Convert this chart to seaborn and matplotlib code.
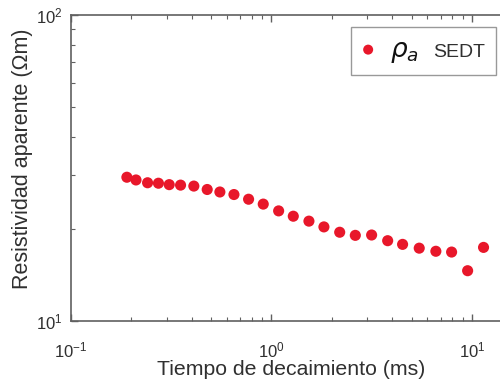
import matplotlib
matplotlib.use("Agg")
import matplotlib.pyplot as plt
import seaborn as sns
import pandas as pd
from matplotlib.lines import Line2D
from matplotlib.ticker import LogLocator, NullFormatter

# Decay time (ms) and apparent resistivity (Ohm m)
tiempo_ms = [0.190, 0.211, 0.241, 0.273, 0.309, 0.352, 0.410, 0.478, 0.553, 0.650,
             0.769, 0.910, 1.086, 1.285, 1.538, 1.827, 2.19, 2.62, 3.16, 3.80,
             4.51, 5.46, 6.61, 7.92, 9.52, 11.43]
resistividad = [29.5, 28.9, 28.3, 28.2, 27.9, 27.8, 27.6, 26.9, 26.4, 25.9,
                25.0, 24.1, 22.9, 22.0, 21.2, 20.3, 19.5, 19.05, 19.1, 18.3,
                17.8, 17.3, 16.9, 16.8, 14.6, 17.4]
simbolo = r"$\rho_a$"
metodo = "SEDT"

df = pd.DataFrame({"t": tiempo_ms, "rho": resistividad})

sns.set_style("ticks")
plt.rcParams["font.family"] = ["Liberation Sans", "DejaVu Sans"]
plt.rcParams["mathtext.default"] = "it"

fig = plt.figure(figsize=(5.0, 3.79), dpi=100)
ax = fig.add_axes([71 / 500, 1 - 321 / 379, 441 / 500, 306 / 379])

sns.scatterplot(data=df, x="t", y="rho", ax=ax, color="#e8172a", s=64,
                edgecolor="none", label=simbolo, zorder=3)

ax.set_xscale("log")
ax.set_yscale("log")
ax.set_xlim(0.1, 10 ** 1.2)
ax.set_ylim(10, 100)

ax.xaxis.set_major_locator(LogLocator(base=10, numticks=10))
ax.xaxis.set_minor_locator(LogLocator(base=10, subs=range(2, 10), numticks=20))
ax.yaxis.set_major_locator(LogLocator(base=10, numticks=10))
ax.yaxis.set_minor_locator(LogLocator(base=10, subs=range(2, 10), numticks=20))
ax.xaxis.set_minor_formatter(NullFormatter())
ax.yaxis.set_minor_formatter(NullFormatter())

spine_c = "#606060"
text_c = "#303030"
for s in ax.spines.values():
    s.set_color(spine_c)
    s.set_linewidth(1.2)
ax.tick_params(which="both", direction="in", top=True, right=True,
               color=spine_c, labelcolor=text_c, labelsize=12)
ax.tick_params(which="major", length=5, width=1.0)
ax.tick_params(which="minor", length=3, width=0.8)
ax.tick_params(axis="x", pad=14)
ax.tick_params(axis="y", pad=6)

ax.set_xlabel("Tiempo de decaimiento (ms)", fontsize=15.3, color=text_c, labelpad=0)
ax.set_ylabel("Resistividad aparente (Ωm)", fontsize=15.5, color=text_c)
ax.yaxis.set_label_coords(-0.086, 0.53)

# legend: marker + symbol, then the method name in a smaller upright font
handles, labels = ax.get_legend_handles_labels()
handles.append(Line2D([], [], linestyle="none"))
labels.append(metodo)
leg = ax.legend(handles, labels, ncol=2, loc="upper right",
                bbox_to_anchor=(496 / 500, 1 - 27 / 379),
                bbox_transform=fig.transFigure, fontsize=19, frameon=True,
                fancybox=False, borderpad=0.4, handletextpad=0.59,
                columnspacing=-0.55, markerscale=0.9, handlelength=0.5,
                borderaxespad=0)
leg.get_frame().set_edgecolor("#808080")
leg.get_frame().set_linewidth(1.0)
txt = leg.get_texts()
txt[0].set_color("#111111")
txt[1].set_color(text_c)
txt[1].set_fontsize(14)

fig.savefig("out.png", dpi=100)
